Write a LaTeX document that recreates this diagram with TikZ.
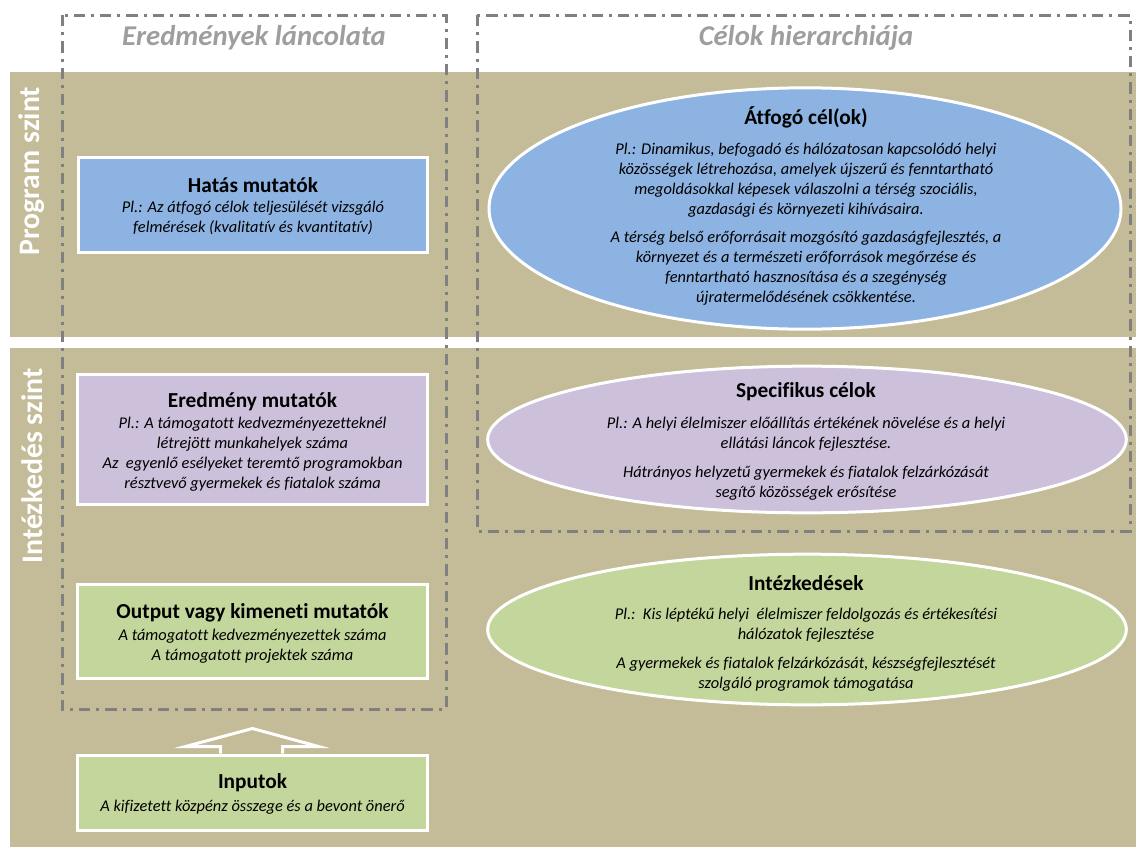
\documentclass[tikz,border=0pt]{standalone}
\usepackage{fontspec}
\setmainfont{Carlito}[Ligatures=CommonOff]
\usetikzlibrary{shapes.geometric}
\definecolor{tanbg}{RGB}{196,188,152}
\definecolor{hblue}{RGB}{141,179,226}
\definecolor{hlav}{RGB}{204,192,218}
\definecolor{hgreen}{RGB}{195,214,155}
\definecolor{dgray}{RGB}{128,128,128}
\definecolor{hgray}{RGB}{158,158,158}
\begin{document}
\begin{tikzpicture}[x=0.75pt,y=-0.75pt,
  dashbox/.style={draw=dgray, line width=2.25pt, dash pattern=on 8.5pt off 4.5pt on 2.25pt off 4.5pt},
  ibox/.style={rectangle, draw=white, line width=2.25pt, inner sep=0pt, minimum width=262pt},
  ell/.style={ellipse, draw=white, line width=2.25pt, inner sep=0pt},
  ttl/.style={font=\fontsize{16}{19}\selectfont\bfseries, text=black, inner sep=0pt},
  bdy/.style={font=\fontsize{12.3}{15}\selectfont\itshape, text=black, align=center, inner sep=0pt},
  hdr/.style={font=\fontsize{21.5}{25}\selectfont\bfseries\itshape, text=hgray, inner sep=0pt},
  lvl/.style={font=\fontsize{22.3}{25}\selectfont\bfseries, text=white, rotate=90, inner sep=0pt}]

\useasboundingbox (0,0) rectangle (1136,847);
\fill[white] (0,0) rectangle (1136,847);
\fill[tanbg] (10,72) rectangle (1136,337);
\fill[tanbg] (10,348) rectangle (1136,847);

% level labels
\node[lvl] (lprog) at (32,171) {Program szint};
\node[lvl] (lint) at (32,466) {Intézkedés szint};

% frames
\draw[dashbox] (62,15) rectangle (446,709);
\draw[dashbox] (477,15) rectangle (1130,531);
\node[hdr] (hleft) at (254,38) {Eredmények láncolata};
\node[hdr] (hright) at (806,38) {Célok hierarchiája};

% left boxes
\node[ibox, fill=hblue, minimum height=71.25pt] (hatas) at (253,204.5) {};
\node[ttl] (hatasT) at (253,185) {Hatás mutatók};
\node[bdy] (hatasB) at (253,218) {Pl.: Az átfogó célok teljesülését vizsgáló\\felmérések (kvalitatív és kvantitatív)};

\node[ibox, fill=hlav, minimum height=97.5pt] (ered) at (252.5,439) {};
\node[ttl] (eredT) at (252.5,402) {Eredmény mutatók};
\node[bdy] (eredB) at (252.5,454) {Pl.: A támogatott kedvezményezetteknél\\létrejött munkahelyek száma\\Az\ \ egyenlő esélyeket teremtő programokban\\résztvevő gyermekek és fiatalok száma};

\node[ibox, fill=hgreen, minimum height=70pt] (outp) at (252.5,631.5) {};
\node[ttl] (outpT) at (252.5,613) {Output vagy kimeneti mutatók};
\node[bdy] (outpB) at (252.5,646) {A támogatott kedvezményezettek száma\\A támogatott projektek száma};

\node[ibox, fill=hgreen, minimum height=56.25pt] (inp) at (252.5,792.5) {};
\node[ttl] (inpT) at (252.5,783) {Inputok};
\node[bdy] (inpB) at (252.5,807) {A kifizetett közpénz összege és a bevont önerő};

% block arrow
\begin{scope}[shift={(inp.north)}]
\draw[draw=white, fill=tanbg, line width=2.25pt, line join=miter]
  (-32,0) -- (-32,-7) -- (-67,-7) -- (0,-25) -- (66,-7) -- (30,-7) -- (30,0);
\end{scope}

% ellipses
\node[ell, fill=hblue, minimum width=474pt, minimum height=181pt] (atf) at (805,208.5) {};
\node[ttl] (atfT) at (806,117) {Átfogó cél(ok)};
\node[bdy] (atfB1) at (806,180) {Pl.: Dinamikus, befogadó és hálózatosan kapcsolódó helyi\\közösségek létrehozása, amelyek újszerű és fenntartható\\megoldásokkal képesek válaszolni a térség szociális,\\gazdasági és környezeti kihívásaira.};
\node[bdy] (atfB2) at (806,268) {A térség belső erőforrásait mozgósító gazdaságfejlesztés, a\\környezet és a természeti erőforrások megőrzése és\\fenntartható hasznosítása és a szegénység\\újratermelődésének csökkentése.};

\node[ell, fill=hlav, minimum width=479pt, minimum height=110pt] (spec) at (807,439.5) {};
\node[ttl] (specT) at (806,392) {Specifikus célok};
\node[bdy] (specB1) at (806,434) {Pl.: A helyi élelmiszer előállítás értékének növelése és a helyi\\ellátási láncok fejlesztése.};
\node[bdy] (specB2) at (806,483) {Hátrányos helyzetű gyermekek és fiatalok felzárkózását\\segítő közösségek erősítése};

\node[ell, fill=hgreen, minimum width=479pt, minimum height=113pt] (intk) at (807,629.5) {};
\node[ttl] (intkT) at (806,583) {Intézkedések};
\node[bdy] (intkB1) at (806,625) {Pl.:\ \ Kis léptékű helyi\ \ élelmiszer feldolgozás és értékesítési\\hálózatok fejlesztése};
\node[bdy] (intkB2) at (806,674) {A gyermekek és fiatalok felzárkózását, készségfejlesztését\\szolgáló programok támogatása};
\end{tikzpicture}
\end{document}
